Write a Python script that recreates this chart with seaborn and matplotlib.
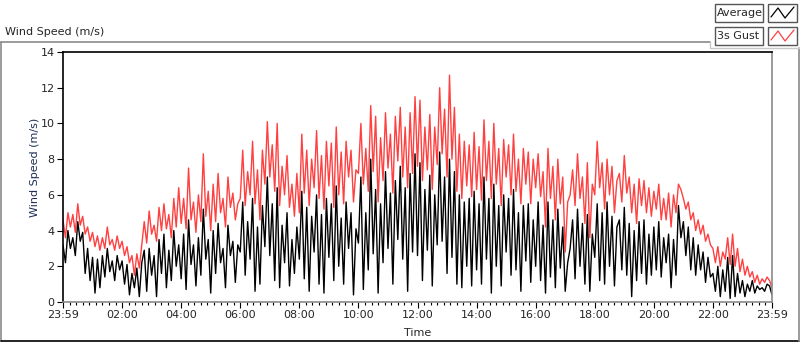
import numpy as np
import pandas as pd
import matplotlib
matplotlib.use("Agg")
import matplotlib.pyplot as plt
from matplotlib.lines import Line2D
from matplotlib.patches import Rectangle
import seaborn as sns

# 5-minute samples, 23:59 (previous day) .. 23:59
gust = [
    4.6, 3.6, 5.0, 4.2, 4.9, 3.9, 5.5, 4.3, 4.8, 3.8, 4.2, 3.4, 3.9, 3.1, 3.7, 2.9, 3.6, 3.0, 4.2, 3.2, 3.5, 2.9, 3.7, 3.0,
    3.4, 2.6, 3.1, 2.2, 2.6, 1.5, 2.7, 1.9, 3.2, 4.5, 3.3, 5.1, 3.8, 4.3, 3.4, 5.3, 4.0, 5.5, 4.1, 4.9, 3.6, 5.8, 4.2, 6.4,
    4.4, 5.8, 4.1, 7.5, 4.6, 5.6, 3.9, 6.0, 4.5, 8.3, 4.8, 6.2, 4.0, 6.6, 4.5, 7.2, 5.0, 5.8, 4.2, 7.0, 5.3, 6.1, 4.6, 5.5,
    5.8, 8.5, 5.4, 7.3, 6.0, 9.0, 5.5, 7.4, 4.6, 8.5, 6.6, 10.1, 7.0, 8.8, 6.2, 10.0, 5.4, 7.6, 6.0, 8.2, 5.3, 6.6, 4.8, 7.2,
    5.0, 9.4, 6.1, 8.5, 5.4, 8.0, 6.4, 9.6, 5.8, 8.2, 5.2, 9.0, 6.5, 8.9, 5.3, 9.8, 6.0, 8.4, 5.5, 9.0, 7.0, 8.5, 5.6, 7.4,
    7.2, 10.0, 6.6, 8.6, 6.2, 11.0, 7.3, 10.4, 5.6, 9.2, 6.8, 10.6, 7.5, 9.4, 6.1, 10.4, 7.9, 10.9, 7.0, 9.8, 6.4, 10.6, 7.2, 11.5,
    7.6, 11.3, 6.8, 9.8, 7.4, 10.5, 6.3, 9.8, 7.7, 12.0, 8.3, 10.8, 7.0, 12.7, 8.0, 10.9, 6.2, 9.4, 5.8, 9.0, 6.5, 8.8, 5.9, 9.5,
    6.3, 8.7, 5.7, 10.2, 6.8, 9.0, 5.8, 10.0, 6.6, 8.6, 5.4, 9.1, 7.0, 8.8, 6.0, 9.4, 6.2, 8.0, 5.5, 8.6, 6.6, 8.4, 5.5, 8.0,
    6.4, 8.3, 5.9, 7.3, 4.2, 8.6, 5.8, 7.6, 4.6, 8.0, 5.5, 7.0, 2.8, 5.6, 6.0, 7.4, 5.4, 8.3, 5.8, 7.0, 4.4, 7.8, 3.6, 6.6,
    6.0, 9.0, 6.4, 7.8, 5.2, 8.0, 6.0, 7.6, 5.0, 6.8, 7.2, 5.6, 8.2, 6.1, 7.0, 5.0, 6.6, 4.4, 6.9, 5.4, 6.8, 5.0, 6.4, 4.8,
    6.2, 5.2, 6.6, 4.6, 5.8, 4.6, 6.1, 4.2, 6.0, 5.0, 6.6, 6.3, 5.8, 5.2, 5.6, 4.6, 5.0, 4.0, 4.6, 3.8, 4.3, 3.4, 3.8, 3.2,
    3.0, 2.2, 3.1, 2.0, 2.8, 2.4, 3.6, 2.1, 3.8, 2.0, 3.0, 1.7, 2.4, 1.5, 2.0, 1.4, 1.7, 1.1, 1.5, 1.0, 1.3, 1.1, 1.4, 1.2,
    0.8,
]
average = [
    3.2, 2.2, 4.0, 3.0, 3.6, 2.6, 4.5, 3.4, 3.9, 1.6, 3.0, 1.2, 2.5, 0.5, 2.4, 0.8, 2.6, 1.4, 3.0, 1.7, 2.3, 1.2, 2.6, 1.8,
    2.3, 1.0, 2.1, 0.4, 1.6, 0.8, 1.9, 0.3, 2.2, 2.9, 0.6, 3.0, 1.5, 2.6, 0.3, 3.5, 1.6, 3.8, 0.8, 2.9, 1.2, 4.0, 2.0, 3.2,
    1.3, 3.8, 0.7, 4.6, 2.1, 3.2, 0.9, 3.6, 1.5, 5.2, 2.4, 3.5, 0.5, 4.0, 1.6, 4.4, 2.2, 3.0, 0.8, 4.3, 2.6, 3.4, 1.1, 3.2,
    2.8, 5.6, 1.5, 4.5, 2.4, 5.8, 0.6, 4.2, 1.0, 5.4, 3.1, 7.0, 2.6, 5.5, 1.2, 6.4, 0.8, 4.3, 2.2, 5.0, 0.9, 3.5, 1.6, 4.2,
    2.4, 6.2, 1.3, 5.3, 0.6, 4.8, 2.8, 6.0, 1.0, 4.9, 0.5, 5.8, 2.5, 5.5, 1.2, 6.5, 2.0, 4.7, 1.0, 5.6, 3.0, 5.0, 0.4, 4.1,
    3.3, 7.0, 0.7, 5.0, 1.8, 8.0, 2.7, 6.3, 0.5, 5.5, 2.2, 7.3, 3.0, 6.1, 1.0, 6.8, 3.5, 7.6, 2.4, 6.4, 0.6, 7.2, 2.8, 8.3,
    2.6, 7.8, 1.2, 6.3, 2.9, 7.1, 0.9, 6.0, 3.2, 8.4, 3.4, 7.0, 1.6, 8.0, 2.5, 7.3, 1.0, 6.0, 0.8, 5.6, 2.0, 5.8, 0.9, 6.2,
    1.8, 5.5, 1.0, 7.0, 2.4, 5.8, 0.5, 6.6, 2.0, 5.4, 0.9, 6.0, 2.8, 5.8, 1.5, 6.3, 1.8, 5.0, 0.6, 5.4, 2.3, 5.5, 1.1, 4.6,
    2.0, 5.6, 1.2, 4.3, 0.5, 5.6, 1.4, 4.6, 0.8, 5.2, 1.9, 4.2, 0.6, 2.2, 3.0, 4.6, 1.3, 5.2, 2.0, 4.4, 1.0, 4.9, 0.6, 3.8,
    2.5, 5.5, 1.2, 5.0, 1.0, 5.6, 2.0, 4.8, 0.9, 4.2, 4.6, 1.8, 5.3, 1.5, 4.4, 0.3, 4.0, 1.2, 4.5, 1.6, 4.6, 1.0, 3.8, 1.5,
    4.2, 1.8, 4.5, 1.4, 3.6, 2.2, 3.8, 0.8, 3.5, 1.5, 5.4, 3.6, 4.5, 2.6, 4.2, 1.8, 3.6, 1.5, 3.2, 1.8, 2.8, 1.1, 2.5, 1.4,
    1.6, 0.6, 2.0, 0.3, 1.8, 0.6, 2.5, 0.2, 2.6, 0.3, 1.6, 0.5, 1.2, 0.3, 1.0, 0.6, 1.2, 0.5, 0.9, 0.7, 0.8, 0.6, 1.0, 0.9,
    0.4,
]
minutes = [5 * i for i in range(len(gust))]
tick_labels = ["23:59", "02:00", "04:00", "06:00", "08:00", "10:00", "12:00",
               "14:00", "16:00", "18:00", "20:00", "22:00", "23:59"]
series_names = ["Average", "3s Gust"]

df = pd.DataFrame({"t": minutes, "gust": gust, "avg": average})

sns.set_style("white")
plt.rcParams["font.family"] = ["DejaVu Sans"]
fs = 8

fig = plt.figure(figsize=(8, 3.42), dpi=100)
ax = fig.add_axes([63 / 800, 1 - 302 / 342, 709 / 800, 250 / 342])

sns.lineplot(data=df, x="t", y="gust", color="#ff4040", linewidth=1.0, ax=ax)
sns.lineplot(data=df, x="t", y="avg", color="black", linewidth=1.0, ax=ax)

ax.set_xlim(0, 1440)
ax.set_ylim(0, 14)
ax.set_xticks([120 * i for i in range(len(tick_labels))])
ax.set_xticklabels(tick_labels, fontsize=fs)
ax.set_xticks(np.arange(0, 1441, 120 / 9), minor=True)
ax.set_yticks(range(0, 15, 2))
ax.set_yticklabels([str(v) for v in range(0, 15, 2)], fontsize=fs)
ax.tick_params(axis="both", which="major", direction="out", length=4, width=0.8,
               color="black", bottom=True, left=True, pad=2)
ax.tick_params(axis="x", which="minor", direction="out", length=2.5, width=0.8,
               color="black", bottom=True)
ax.set_xlabel("Time", fontsize=fs)
ax.xaxis.set_label_coords(0.5, -0.125)
ax.xaxis.label.set_va("center")
ax.set_ylabel("Wind Speed (m/s)", fontsize=fs, color="#1c2c54")
ax.yaxis.set_label_coords(-0.04, 0.54)
ax.yaxis.label.set_va("center")
for side in ["top", "left"]:
    ax.spines[side].set_color("black")
    ax.spines[side].set_linewidth(1.2)
for side in ["bottom", "right"]:
    ax.spines[side].set_color("#8a8a8a")
    ax.spines[side].set_linewidth(1.2)

# outer frame
fig.add_artist(Line2D([0.5 / 800, 710 / 800], [1 - 42 / 342] * 2, color="#8a8a8a", lw=1.2))
fig.add_artist(Line2D([0.5 / 800] * 2, [1 - 42 / 342, 1 - 340.5 / 342], color="#8a8a8a", lw=1.2))
fig.add_artist(Line2D([0.5 / 800, 799 / 800], [1 - 340.5 / 342] * 2, color="black", lw=1.2))
fig.add_artist(Line2D([799 / 800] * 2, [1 - 48 / 342, 1 - 340.5 / 342], color="#8a8a8a", lw=1.2))
fig.add_artist(Line2D([710 / 800, 710 / 800, 799 / 800], [1 - 42 / 342, 1 - 48 / 342, 1 - 48 / 342],
                      color="#c8c8c8", lw=1.0))

fig.text(5 / 800, 1 - 32 / 342, "Wind Speed (m/s)", fontsize=fs, va="center", ha="left")

# legend boxes
colors = ["black", "#ff4040"]
for i, (name, c) in enumerate(zip(series_names, colors)):
    y0 = 4 + 23 * i
    fig.add_artist(Rectangle((715 / 800, 1 - (y0 + 18) / 342), 48 / 800, 18 / 342,
                             transform=fig.transFigure, facecolor="white",
                             edgecolor="#555555", lw=1.0))
    fig.text(717 / 800, 1 - (y0 + 9) / 342, name, fontsize=fs, va="center", ha="left")
    fig.add_artist(Rectangle((768 / 800, 1 - (y0 + 18) / 342), 29 / 800, 18 / 342,
                             transform=fig.transFigure, facecolor="white",
                             edgecolor="#555555", lw=1.0))
    xs = [771, 778, 785, 794]
    ys = [y0 + 13, y0 + 4, y0 + 14, y0 + 3]
    fig.add_artist(Line2D([x / 800 for x in xs], [1 - y / 342 for y in ys], color=c, lw=0.9))

fig.savefig("out.png", dpi=100)
